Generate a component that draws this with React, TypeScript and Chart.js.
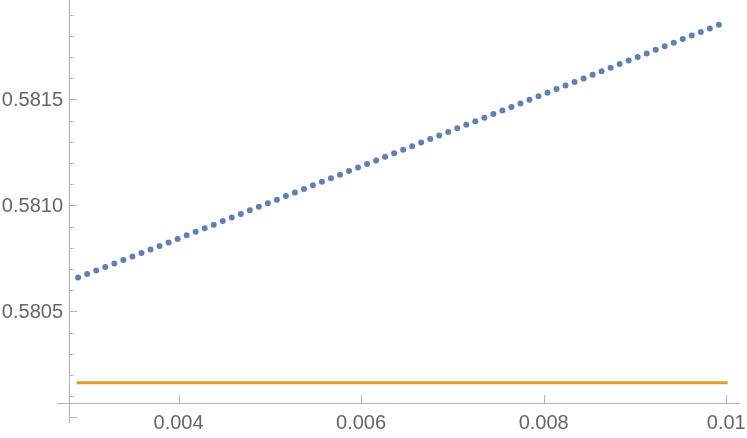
import React, { useEffect, useRef } from "react";
import { Chart, registerables } from "chart.js";

Chart.register(...registerables);

// Blue series (dotted)
const blueX = [0.0029, 0.004, 0.006, 0.008, 0.01];
const blueY = [0.58066, 0.580843, 0.581184, 0.581524, 0.581865];

// Orange series (constant)
const orangeX = [0.0029, 0.01];
const orangeY = [0.580163, 0.580163];

// Axis ranges & ticks
const xMin = 0.0028;
const xMax = 0.010151;
const yMin = 0.5800675;
const yMax = 0.5819684;
const xMajorTicks = [0.004, 0.006, 0.008, 0.01];
const xTickLabels = ["0.004", "0.006", "0.008", "0.01"];
const yMajorTicks = [0.58, 0.5805, 0.581, 0.5815];
const yTickLabels = ["", "0.5805", "0.5810", "0.5815"];
const yMinorTicks = [
  0.5801, 0.5802, 0.5803, 0.5804, 0.5806, 0.5807, 0.5808, 0.5809,
  0.5811, 0.5812, 0.5813, 0.5814, 0.5816, 0.5817, 0.5818, 0.5819,
];

const AXIS_COLOR = "#b3b3b3";
const LABEL_COLOR = "#666666";
const FONT = '20px "Liberation Sans", Arial, sans-serif';

const axesPlugin = {
  id: "mmaAxes",
  beforeDatasetsDraw(chart: any) {
    const { ctx } = chart;
    const xs = chart.scales.x;
    const ys = chart.scales.y;
    const x0 = xs.getPixelForValue(xMin);
    const y0 = ys.getPixelForValue(yMin);
    ctx.save();
    ctx.strokeStyle = AXIS_COLOR;
    ctx.lineWidth = 1;
    // y axis
    ctx.beginPath();
    ctx.moveTo(x0 + 0.5, 0);
    ctx.lineTo(x0 + 0.5, y0 + 20);
    ctx.stroke();
    // x axis
    ctx.beginPath();
    ctx.moveTo(x0 - 12, y0 + 0.5);
    ctx.lineTo(chart.chartArea.right, y0 + 0.5);
    ctx.stroke();
    // y ticks
    ctx.beginPath();
    yMajorTicks.forEach((v) => {
      const p = Math.round(ys.getPixelForValue(v)) + 0.5;
      ctx.moveTo(x0, p);
      ctx.lineTo(x0 + 8, p);
    });
    yMinorTicks.forEach((v) => {
      const p = Math.round(ys.getPixelForValue(v)) + 0.5;
      ctx.moveTo(x0, p);
      ctx.lineTo(x0 + 4.5, p);
    });
    // x ticks
    xMajorTicks.forEach((v) => {
      const p = Math.round(xs.getPixelForValue(v)) + 0.5;
      ctx.moveTo(p, y0);
      ctx.lineTo(p, y0 - 8);
    });
    ctx.stroke();
    // labels
    ctx.fillStyle = LABEL_COLOR;
    ctx.font = FONT;
    ctx.textAlign = "right";
    ctx.textBaseline = "middle";
    yMajorTicks.forEach((v, i) => {
      if (!yTickLabels[i]) return;
      ctx.fillText(yTickLabels[i], x0 - 6, ys.getPixelForValue(v) + 1);
    });
    ctx.textAlign = "center";
    xMajorTicks.forEach((v, i) => {
      ctx.fillText(xTickLabels[i], xs.getPixelForValue(v), y0 + 20);
    });
    ctx.restore();
  },
};

export default function App() {
  const ref = useRef<HTMLCanvasElement | null>(null);
  useEffect(() => {
    document.body.style.margin = "0";
    const canvas = ref.current;
    if (!canvas) return;
    const chart = new Chart(canvas, {
      type: "line",
      data: {
        datasets: [
          {
            label: "blue",
            data: blueX.map((x, i) => ({ x, y: blueY[i] })),
            borderColor: "#5E81B5",
            borderWidth: 6,
            borderDash: [0, 9.7],
            borderCapStyle: "round",
            pointRadius: 0,
            fill: false,
            tension: 0,
          },
          {
            label: "orange",
            data: orangeX.map((x, i) => ({ x, y: orangeY[i] })),
            borderColor: "#E19C24",
            borderWidth: 3,
            borderCapStyle: "square",
            pointRadius: 0,
            fill: false,
            tension: 0,
          },
        ],
      },
      options: {
        animation: false,
        responsive: false,
        devicePixelRatio: 1,
        layout: { padding: { left: 69, right: 7, top: 0, bottom: 35 } },
        plugins: {
          legend: { display: false },
          tooltip: { enabled: false },
        },
        scales: {
          x: { type: "linear", min: xMin, max: xMax, display: false },
          y: { type: "linear", min: yMin, max: yMax, display: false },
        },
      },
      plugins: [axesPlugin],
    } as any);
    return () => chart.destroy();
  }, []);
  return (
    <div style={{ width: 747, height: 438, background: "#fff" }}>
      <canvas ref={ref} width={747} height={438} style={{ display: "block" }} />
    </div>
  );
}
